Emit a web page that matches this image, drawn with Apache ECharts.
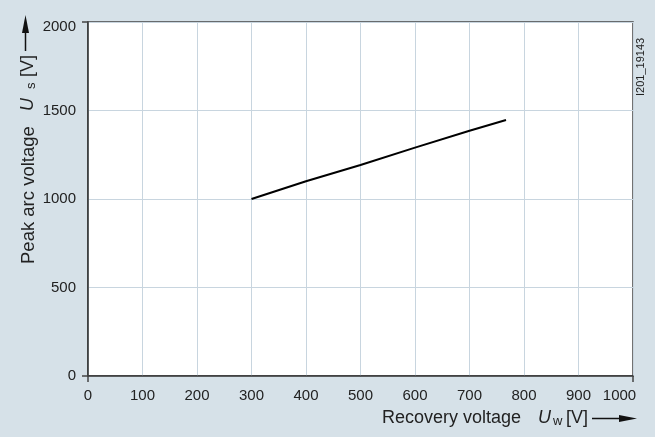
<!DOCTYPE html>
<html><head><meta charset="utf-8">
<script src="https://cdn.jsdelivr.net/npm/echarts@6/dist/echarts.min.js"></script>
<style>html,body{margin:0;padding:0;background:#d6e1e8}#c{width:655px;height:437px}</style>
</head><body><div id="c"></div>
<script>
const xValues = [300, 400, 500, 600, 700, 767];
const yValues = [1000, 1100, 1192, 1290, 1386, 1446];
const xTicks = [0, 100, 200, 300, 400, 500, 600, 700, 800, 900, 1000];
const yTicks = [0, 500, 1000, 1500, 2000];
const xEndTicks = [0, 1000];
const yEndTicks = [0, 2000];

const FONT = '"Liberation Sans", Arial, sans-serif';
const chart = echarts.init(document.getElementById('c'), null, {renderer: 'canvas'});
chart.setOption({
  backgroundColor: '#d6e1e8',
  animation: false,
  grid: {left: 88, right: 22, top: 22, bottom: 61, show: true, backgroundColor: '#fff', borderColor: '#444', borderWidth: 1.5},
  xAxis: [{
    type: 'value', min: 0, max: 1000, interval: 100,
    axisLine: {show: true, lineStyle: {color: '#333', width: 1.5}},
    axisTick: {show: false},
    axisLabel: {
      margin: 12, customValues: xTicks, color: '#222', fontFamily: FONT, fontSize: 15,
      formatter: v => v === xTicks[xTicks.length - 1] ? '{e|' + v + '}' : String(v),
      rich: {e: {color: '#222', fontFamily: FONT, fontSize: 15, padding: [0, 27, 0, 0]}}
    },
    splitLine: {show: true, lineStyle: {color: '#c8d5df', width: 1}}
  }, {
    type: 'value', min: 0, max: 1000, position: 'bottom',
    axisLine: {show: false},
    axisTick: {show: true, customValues: xEndTicks, length: 6, lineStyle: {color: '#444', width: 1.5}},
    axisLabel: {show: false}, splitLine: {show: false}
  }],
  yAxis: [{
    type: 'value', min: 0, max: 2000, interval: 500,
    axisLine: {show: true, lineStyle: {color: '#333', width: 1.5}},
    axisTick: {show: false},
    axisLabel: {
      margin: 12, customValues: yTicks, color: '#222', fontFamily: FONT, fontSize: 15,
      formatter: v => v === yTicks[yTicks.length - 1] ? '{t|' + v + '}' : String(v),
      rich: {t: {color: '#222', fontFamily: FONT, fontSize: 15, padding: [10, 0, 0, 0]}}
    },
    splitLine: {show: true, lineStyle: {color: '#c8d5df', width: 1}}
  }, {
    type: 'value', min: 0, max: 2000, position: 'left',
    axisLine: {show: false},
    axisTick: {show: true, customValues: yEndTicks, length: 6, lineStyle: {color: '#444', width: 1.5}},
    axisLabel: {show: false}, splitLine: {show: false}
  }],
  series: [{
    type: 'line', data: xValues.map((x, i) => [x, yValues[i]]),
    showSymbol: false, lineStyle: {color: '#000', width: 2}
  }],
  graphic: [
    // x axis name
    {type: 'text', x: 382, y: 409, style: {text: 'Recovery voltage', font: '18px ' + FONT, fill: '#222'}},
    {type: 'text', x: 538, y: 409, style: {text: 'U', font: 'italic 18px ' + FONT, fill: '#222'}},
    {type: 'text', x: 553, y: 415, style: {text: 'w', font: '13px ' + FONT, fill: '#222'}},
    {type: 'text', x: 566, y: 409, style: {text: '[V]', font: '18px ' + FONT, fill: '#222'}},
    {type: 'line', shape: {x1: 592, y1: 418.5, x2: 624, y2: 418.5}, style: {stroke: '#111', lineWidth: 1.5}},
    {type: 'polygon', shape: {points: [[619, 415], [637, 418.5], [619, 422]]}, style: {fill: '#111'}},
    // y axis name (rotated)
    {type: 'text', x: 19, y: 264, rotation: Math.PI / 2, style: {text: 'Peak arc voltage', font: '18.5px ' + FONT, fill: '#222'}},
    {type: 'text', x: 19, y: 111, rotation: Math.PI / 2, style: {text: 'U', font: 'italic 18px ' + FONT, fill: '#222'}},
    {type: 'text', x: 25, y: 89, rotation: Math.PI / 2, style: {text: 's', font: '13px ' + FONT, fill: '#222'}},
    {type: 'text', x: 19, y: 77, rotation: Math.PI / 2, style: {text: '[V]', font: '18px ' + FONT, fill: '#222'}},
    {type: 'line', shape: {x1: 25.5, y1: 51, x2: 25.5, y2: 28}, style: {stroke: '#111', lineWidth: 1.5}},
    {type: 'polygon', shape: {points: [[22, 33], [25.5, 15], [29, 33]]}, style: {fill: '#111'}},
    // figure id
    {type: 'text', x: 635, y: 96, rotation: Math.PI / 2, style: {text: 'I201_19143', font: '11px ' + FONT, fill: '#222'}}
  ]
});
</script></body></html>
